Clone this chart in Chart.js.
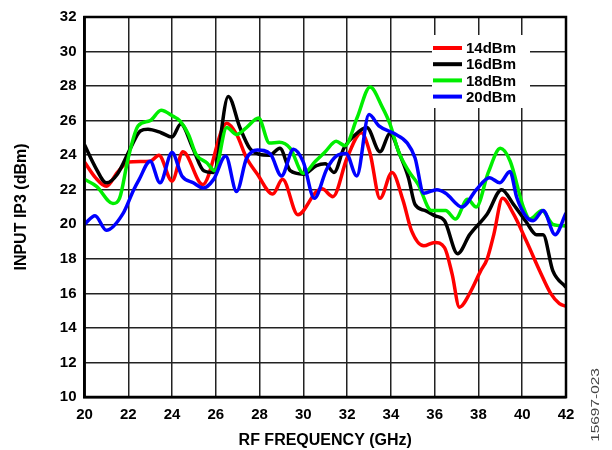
<!DOCTYPE html>
<html>
<head>
<meta charset="utf-8">
<title>Input IP3 vs RF Frequency</title>
<script src="https://cdn.jsdelivr.net/npm/chart.js@4.4.1/dist/chart.umd.min.js"></script>
<style>
  html, body { margin: 0; padding: 0; background: #fff; }
  #chart { display: block; }
</style>
</head>
<body>
<canvas id="chart" width="612" height="450"></canvas>
<script>
"use strict";

// RF frequency (GHz) and input IP3 (dBm) for each LO drive level

var freq14 = [20, 20.5, 21.0, 21.5, 22.0, 23.0, 23.4, 24.0, 24.5, 25.4, 26.5, 26.95, 27.4, 27.9, 28.6, 29.05,
              29.75, 30.6, 30.85, 31.35, 32.0, 32.65, 33.05, 33.5, 34.05, 34.55, 34.95, 35.5, 36.0, 36.45, 36.8,
              37.13, 37.6, 38.1, 38.4, 38.7, 39.1, 39.6, 40.2, 40.8, 41.3, 41.7, 42];
var ip3_14 = [23.6, 22.7, 22.2, 23.0, 23.6, 23.65, 24.0, 22.5, 24.2, 22.3, 25.85, 25.2, 23.85, 22.9, 21.75, 22.6,
              20.55, 21.9, 22.05, 21.6, 23.85, 25.3, 24.1, 21.5, 23.0, 21.4, 19.6, 18.75, 18.95, 18.65, 17.1,
              15.2, 16.0, 17.3, 18.0, 19.4, 21.5, 20.6, 19.0, 17.3, 16.0, 15.4, 15.25];

var freq16 = [20, 20.5, 21.0, 21.5, 22.1, 22.55, 22.9, 23.5, 24.0, 24.4, 24.95, 25.45, 25.9, 26.57, 27.1, 27.55,
              28.0, 28.45, 28.93, 29.4, 30.0, 30.6, 31.0, 31.4, 31.85, 32.3, 32.9, 33.5, 33.96, 34.4, 34.8,
              35.1, 35.55, 36.0, 36.45, 37.05, 37.6, 38.4, 39.06, 39.6, 40.2, 40.65, 40.95, 41.4, 42];
var ip3_16 = [24.6, 23.3, 22.4, 22.9, 24.4, 25.4, 25.5, 25.3, 25.05, 25.8, 24.4, 23.1, 23.0, 27.4, 25.6, 24.4,
              24.05, 24.0, 24.4, 23.1, 22.9, 23.4, 23.5, 23.0, 24.4, 25.1, 25.6, 24.2, 25.25, 24.05, 22.7,
              21.15, 20.8, 20.5, 20.2, 18.3, 19.4, 20.6, 22.0, 21.15, 20.1, 19.4, 19.4, 17.3, 16.35];

var freq18 = [20, 20.55, 21.3, 21.6, 22.0, 22.45, 23.0, 23.5, 24.05, 24.35, 24.75, 25.1, 25.6, 25.95, 26.5, 26.95,
              27.4, 27.95, 28.45, 28.9, 29.4, 30.0, 30.55, 31.0, 31.5, 31.9, 32.45, 33.05, 33.6, 33.96, 34.35,
              34.8, 35.25, 35.85, 36.5, 36.95, 37.5, 37.9, 38.45, 39.0, 39.45, 40.05, 40.35, 40.9, 41.4, 42];
var ip3_18 = [22.6, 22.2, 21.2, 21.5, 23.85, 25.7, 26.0, 26.6, 26.25, 26.0, 25.2, 24.05, 23.55, 23.1, 25.6, 25.2,
              25.6, 26.15, 24.7, 24.75, 24.4, 22.95, 23.65, 24.2, 24.8, 24.55, 26.15, 27.95, 26.8, 25.8, 24.2,
              23.1, 22.3, 20.8, 20.8, 20.3, 21.45, 21.0, 23.0, 24.4, 23.65, 21.0, 20.3, 20.8, 20.0, 19.9];

var freq20 = [20, 20.48, 21.0, 21.75, 22.25, 22.5, 23.0, 23.45, 24.0, 24.45, 24.97, 25.43, 25.9, 26.45, 26.95,
              27.4, 27.9, 28.5, 29.0, 29.55, 30.0, 30.5, 31.07, 31.5, 31.95, 32.44, 33.0, 33.45, 34.15, 34.75,
              35.1, 35.5, 36.1, 36.5, 37.25, 37.9, 38.5, 38.98, 39.44, 39.75, 40.2, 40.5, 40.96, 41.5, 42];
var ip3_20 = [20.0, 20.5, 19.65, 20.6, 22.0, 22.6, 23.65, 22.4, 24.15, 22.8, 22.4, 22.1, 22.6, 23.95, 21.9,
              23.8, 24.3, 24.05, 22.8, 24.35, 23.6, 21.5, 23.2, 23.95, 24.1, 22.8, 26.35, 25.7, 25.25, 24.7,
              23.85, 21.8, 22.0, 21.8, 21.0, 22.0, 22.7, 22.4, 23.05, 21.55, 20.4, 20.2, 20.8, 19.4, 20.65];

var seriesLabels = ["14dBm", "16dBm", "18dBm", "20dBm"];
var seriesColors = ["#ff0000", "#000000", "#00ee00", "#0000ff"];

var freqRange = [20, 42];   // GHz, ticks every 2
var ip3Range = [10, 32];    // dBm, ticks every 2

function toPoints(xs, ys) {
    return xs.map(function (x, i) { return { x: x, y: ys[i] }; });
}

var series = [[freq14, ip3_14], [freq16, ip3_16], [freq18, ip3_18], [freq20, ip3_20]];

var datasets = series.map(function (s, i) {
    return {
        label: seriesLabels[i],
        data: toPoints(s[0], s[1]),
        borderColor: seriesColors[i],
        backgroundColor: seriesColors[i],
        order: series.length - 1 - i      // 20dBm drawn on top
    };
});

var boldFont = "'Liberation Sans', Arial, Helvetica, sans-serif";

// plot frame + boxed legend in the upper right of the plot
var frameAndLegend = {
    id: "frameAndLegend",
    afterDatasetsDraw: function (chart) {
        var ctx = chart.ctx,
            area = chart.chartArea;

        ctx.save();
        ctx.strokeStyle = "#000";
        ctx.lineWidth = 2.5;
        ctx.strokeRect(area.left, area.top, area.right - area.left, area.bottom - area.top);

        var boxX = 432, boxY = 35, boxW = 98, boxH = 73, rowH = 16.2;
        ctx.fillStyle = "#fff";
        ctx.fillRect(boxX, boxY, boxW, boxH);

        ctx.font = "bold 15px " + boldFont;
        ctx.textBaseline = "middle";
        ctx.textAlign = "left";
        chart.data.datasets.forEach(function (ds, i) {
            var y = boxY + 13 + i * rowH;
            ctx.strokeStyle = ds.borderColor;
            ctx.lineWidth = 4;
            ctx.beginPath();
            ctx.moveTo(boxX + 1, y);
            ctx.lineTo(boxX + 30, y);
            ctx.stroke();
            ctx.fillStyle = "#000";
            ctx.fillText(ds.label, boxX + 34, y + 1);
        });
        ctx.restore();
    }
};

// figure number along the right edge
var figureTag = {
    id: "figureTag",
    afterDraw: function (chart) {
        var ctx = chart.ctx;
        ctx.save();
        ctx.translate(596, 405);
        ctx.rotate(-Math.PI / 2);
        ctx.scale(1.4, 1);
        ctx.font = "11px " + boldFont;
        ctx.fillStyle = "#444";
        ctx.textAlign = "center";
        ctx.textBaseline = "middle";
        ctx.fillText("15697-023", 0, 0);
        ctx.restore();
    }
};

var axisTicks = { color: "#000", font: { family: boldFont, size: 15, weight: "bold" } };
var axisTitle = { color: "#000", font: { family: boldFont, size: 16, weight: "bold" } };

new Chart(document.getElementById("chart"), {
    type: "line",
    data: { datasets: datasets },
    options: {
        responsive: false,
        animation: false,
        devicePixelRatio: 1,
        layout: { padding: { left: 0, right: 46, top: 15, bottom: 0 } },
        elements: {
            point: { radius: 0 },
            line: { borderWidth: 3.5, cubicInterpolationMode: "monotone" }
        },
        plugins: {
            legend: { display: false },
            tooltip: { enabled: false }
        },
        scales: {
            x: {
                type: "linear",
                min: freqRange[0],
                max: freqRange[1],
                ticks: Object.assign({ stepSize: 2, padding: 9, maxRotation: 0 }, axisTicks),
                grid: { color: "#222", lineWidth: 1.5, drawTicks: false },
                border: { display: true, color: "#000", width: 2.5 },
                title: Object.assign({ display: true, text: "RF FREQUENCY (GHz)", padding: { top: 0, bottom: 0 } }, axisTitle),
                afterFit: function (scale) { scale.height = 53; }
            },
            y: {
                min: ip3Range[0],
                max: ip3Range[1],
                ticks: Object.assign({ stepSize: 2, padding: 8 }, axisTicks),
                grid: { color: "#222", lineWidth: 1.5, drawTicks: false },
                border: { display: true, color: "#000", width: 2.5 },
                title: Object.assign({ display: true, text: "INPUT IP3 (dBm)", padding: { top: 12, bottom: 0 } }, axisTitle),
                afterFit: function (scale) { scale.width = 84.5; }
            }
        }
    },
    plugins: [frameAndLegend, figureTag]
});
</script>
</body>
</html>
